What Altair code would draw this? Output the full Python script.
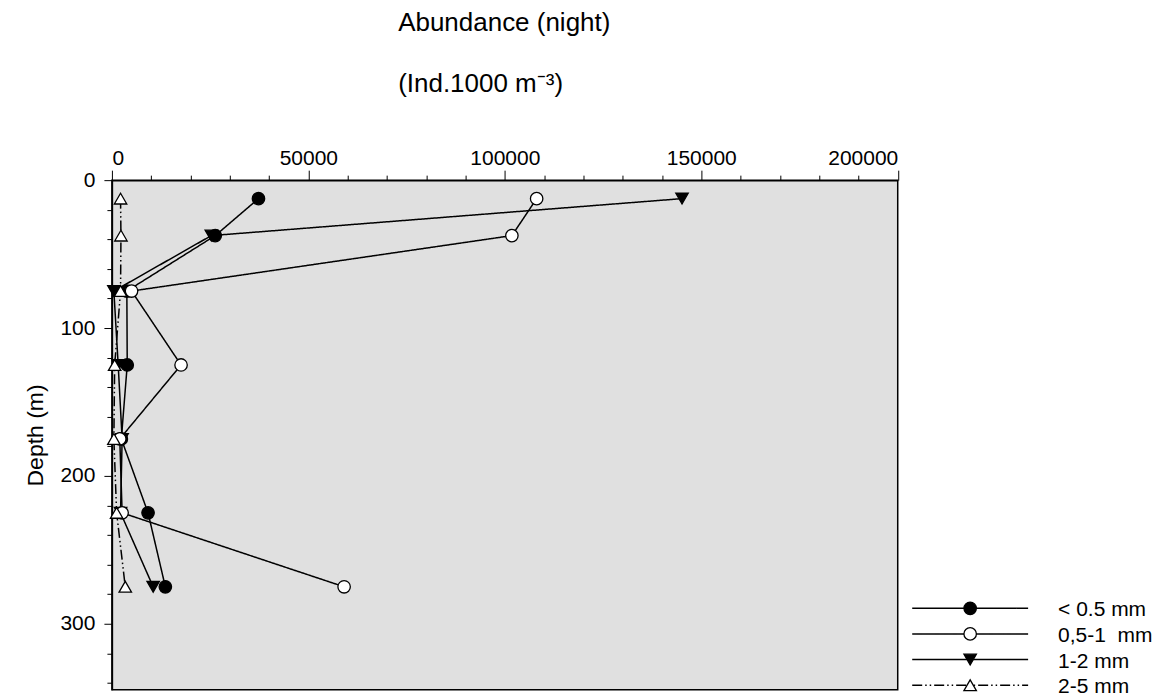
import altair as alt
import pandas as pd

# ---- data ----
series = ["< 0.5 mm", "0,5-1\u00a0 mm", "1-2 mm", "2-5 mm"]
depth = [12.5, 37.5, 75, 125, 175, 225, 275]
s_lt05 = [37300, 26300, 3800, 3900, 2400, 9200, 13600]
s_05_1 = [108100, 101800, 5000, 17600, 2000, 2600, 59100]
s_1_2 = [145100, 25300, 500, 1600, 2600, 2200, 10500]
s_2_5 = [2200, 2300, 2200, 700, 500, 1200, 3400]
x_ticks = list(range(0, 200001, 10000))
y_ticks = list(range(0, 341, 20))

FONT = "Liberation Sans"

rows = []
for name, vals in zip(series, [s_lt05, s_05_1, s_1_2, s_2_5]):
    for d, v in zip(depth, vals):
        rows.append({"series": name, "depth": d, "value": v})
df = pd.DataFrame(rows)
draw_order = [series[2], series[0], series[1], series[3]]
df_pts = pd.concat([df[df.series == s] for s in draw_order])

shape_scale = alt.Scale(domain=series, range=["circle", "circle", "triangle-down", "triangle-up"])
fill_scale = alt.Scale(domain=series, range=["black", "white", "black", "white"])
size_scale = alt.Scale(domain=series, range=[155, 155, 165, 185])
dash_scale = alt.Scale(domain=series, range=[[1, 0], [1, 0], [1, 0], [10, 3, 1.5, 3, 1.5, 3]])
width_scale = alt.Scale(domain=series, range=[1.5, 1.5, 1.5, 1.2])

x_enc = alt.X(
    "value:Q",
    scale=alt.Scale(domain=[0, 200000], nice=False),
    axis=alt.Axis(
        orient="top", values=x_ticks, format="d",
        labelExpr="datum.value % 50000 === 0 ? datum.label : ''",
        tickSize={"condition": {"test": "datum.value % 50000 === 0", "value": 10}, "value": 5},
        labelPadding=2, labelFontSize=21, grid=False, title="",
    ),
)
y_enc = alt.Y(
    "depth:Q",
    scale=alt.Scale(domain=[0, 344.6], nice=False, reverse=True),
    axis=alt.Axis(
        values=y_ticks,
        labelExpr="datum.value % 100 === 0 ? datum.label : ''",
        tickSize={"condition": {"test": "datum.value % 100 === 0", "value": 8}, "value": 5},
        labelPadding=9, labelFontSize=21, grid=False,
        title="Depth (m)", titleFontSize=23, titleFontWeight="normal", titlePadding=12,
    ),
)

lines = alt.Chart(df).mark_line(color="black").encode(
    x=x_enc, y=y_enc,
    detail="series:N",
    order="depth:Q",
    strokeDash=alt.StrokeDash("series:N", scale=dash_scale, legend=None),
    strokeWidth=alt.StrokeWidth("series:N", scale=width_scale, legend=None),
)
points = alt.Chart(df_pts).mark_point(filled=True, stroke="black", strokeWidth=1.3, opacity=1).encode(
    x=x_enc, y=y_enc,
    shape=alt.Shape("series:N", scale=shape_scale, legend=None),
    fill=alt.Fill("series:N", scale=fill_scale, legend=None),
    size=alt.Size("series:N", scale=size_scale, legend=None),
)

main = alt.layer(lines, points).properties(
    width=786.5, height=510,
    view=alt.ViewBackground(fill="#e0e0e0", stroke="black", strokeWidth=1.5),
    title=alt.Title(
        text="Abundance (night)", subtitle="(Ind.1000 m\u207b\u00b3)",
        anchor="start", frame="group", dx=286.5,
        font=FONT, fontSize=26, fontWeight="normal", color="black",
        subtitleFont=FONT, subtitleFontSize=26, subtitleColor="black",
        subtitlePadding=35, offset=50,
    ),
)

# ---- custom legend ----
leg_df = pd.DataFrame({"series": series})
leg_base = alt.Chart(leg_df).encode(
    y=alt.Y("series:N", scale=alt.Scale(type="point", domain=series, range=[428.5, 505.5], padding=0), axis=None)
)
leg_rule = leg_base.mark_rule(color="black").encode(
    x=alt.value(6), x2=alt.value(122),
    strokeDash=alt.StrokeDash("series:N", scale=dash_scale, legend=None),
    strokeWidth=alt.StrokeWidth("series:N", scale=width_scale, legend=None),
)
leg_pts = leg_base.mark_point(filled=True, stroke="black", strokeWidth=1.3, opacity=1).encode(
    x=alt.value(64),
    shape=alt.Shape("series:N", scale=shape_scale, legend=None),
    fill=alt.Fill("series:N", scale=fill_scale, legend=None),
    size=alt.Size("series:N", scale=size_scale, legend=None),
)
leg_txt = leg_base.mark_text(align="left", baseline="middle", font=FONT, fontSize=21, color="black", dy=2).encode(
    x=alt.value(152), text="series:N"
)
legend = alt.layer(leg_rule, leg_pts, leg_txt).properties(
    width=230, height=510, view=alt.ViewBackground(stroke="transparent")
)

chart = alt.hconcat(main, legend, spacing=5).resolve_scale(
    x="independent", y="independent"
).properties(
    padding={"left": 16, "top": 1, "right": 0, "bottom": 0}
).configure_view(stroke="transparent").configure_axis(
    domainColor="black", domainWidth=1.5, tickColor="black", tickWidth=1,
    labelColor="black", labelFont=FONT, titleFont=FONT, titleColor="black",
)

chart.save("out.html", embed_options={"renderer": "svg", "actions": False})
